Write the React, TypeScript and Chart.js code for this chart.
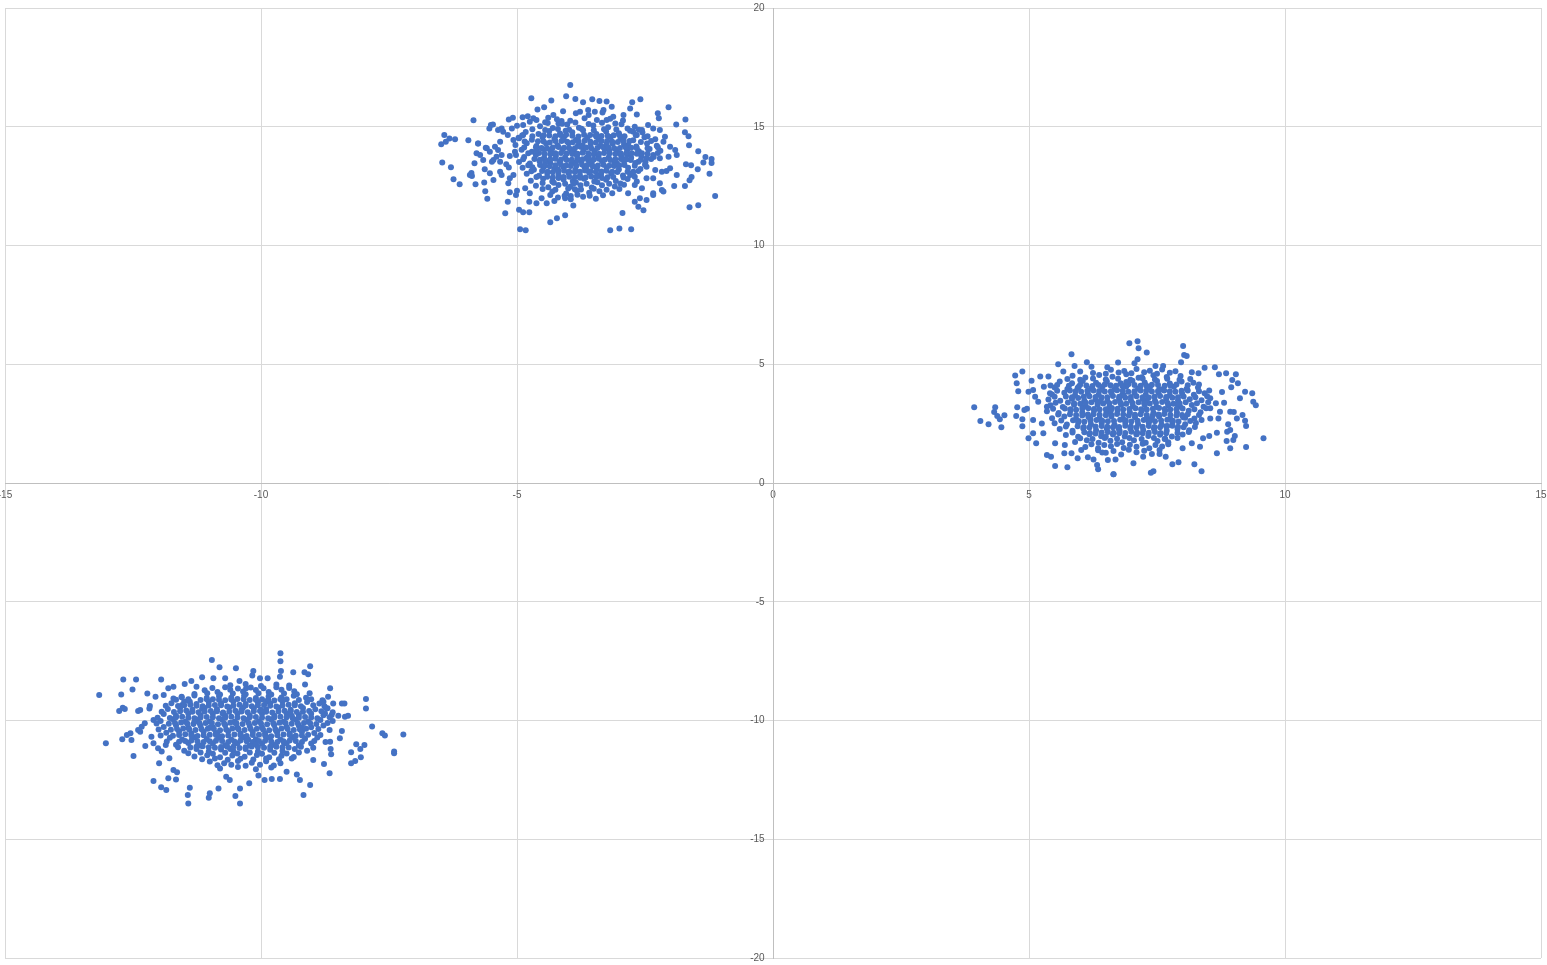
import React, { useEffect, useRef } from "react";
import { Chart, registerables } from "chart.js";

Chart.register(...registerables);

const xTicks = [-15, -10, -5, 0, 5, 10, 15];
const yTicks = [-20, -15, -10, -5, 0, 5, 10, 15, 20];

const clusterA: [number, number][] = [
  [-3.96,16.76],[-4.72,16.20],[-4.33,16.11],[-4.04,16.28],[-3.86,16.17],[-4.60,15.73],[-4.47,15.82],[-4.10,15.65],
  [-5.85,15.27],[-5.16,15.31],[-5.08,15.38],[-4.89,15.40],[-4.79,15.44],[-5.51,15.07],[-5.54,14.93],[-5.47,15.10],
  [-6.42,14.65],[-6.32,14.51],[-6.21,14.47],[-6.39,14.37],[-6.48,14.26],[-5.95,14.43],[-5.76,14.30],[-5.59,14.09],
  [-6.46,13.50],[-6.29,13.29],[-5.83,13.46],[-6.24,12.79],[-6.12,12.58],[-5.92,12.97],[-5.89,13.05],[-5.81,12.58],
  [-5.62,12.28],[-5.58,11.97],[-5.23,11.36],[-5.18,11.84],[-4.96,11.51],[-4.88,11.40],[-4.76,11.40],[-4.94,10.68],
  [-4.83,10.64],[-4.35,10.98],[-4.22,11.15],[-4.06,11.27],[-3.90,11.68],
  [-3.71,16.03],[-3.53,16.16],[-3.39,16.08],[-2.75,16.03],[-2.59,16.16],[-2.04,15.82],[-2.25,15.57],[-2.23,15.36],
  [-1.71,15.31],[-1.89,15.10],[-1.72,14.77],[-1.65,14.60],[-1.64,14.22],[-1.46,13.97],[-1.32,13.73],[-1.20,13.64],
  [-1.20,13.47],[-1.36,13.50],[-1.47,13.21],[-1.24,13.02],[-1.60,13.38],[-1.70,13.42],[-1.59,12.88],[-1.63,12.75],
  [-1.72,12.51],[-1.93,12.51],[-1.13,12.08],[-1.46,11.69],[-1.63,11.61],[-2.53,11.48],[-2.94,11.37],[-3.18,10.64],
  [-3.00,10.72],[-2.77,10.68],[-2.14,12.27],[-2.34,12.13],
  [-5.76,14.30],[-5.61,14.12],[-5.43,14.16],[-5.33,14.37],[-5.37,14.02],[-5.30,13.81],[-5.14,13.77],[-5.04,13.95],
  [-5.40,13.74],[-5.49,13.53],[-5.66,13.60],[-5.72,13.81],[-5.79,13.88],[-5.63,13.21],[-5.53,13.04],[-5.33,13.11],
  [-5.30,12.97],[-5.46,12.76],[-5.17,12.62],[-5.14,12.83],[-5.07,12.97],[-5.21,13.42],[-5.16,13.28],[-5.33,13.53],
  [-5.02,13.81],[-5.07,14.44],[-4.97,14.54],[-4.88,14.65],[-5.18,14.65],[-5.27,14.79],[-5.37,14.86],[-5.30,14.93],
  [-5.10,14.93],[-5.00,15.04],[-4.88,15.07],[-4.75,15.21],[-4.68,15.36],[-4.62,15.28],[-4.45,15.19],[-4.39,15.38],
  [-4.29,15.49],[-4.19,15.14],[-4.13,15.24],[-5.00,12.31],[-5.14,12.24],[-5.02,12.13],[-4.84,12.41],[-4.75,12.20],
  [-4.76,11.84],[-4.62,11.78],[-4.52,11.99],[-4.42,11.78],[-4.27,11.87],[-4.06,11.99],[-3.95,12.08],[-3.87,12.37],
  [-5.53,13.95],[-5.88,12.93],[-5.64,12.65],[-5.46,13.60],
  [-2.73,14.79],[-2.66,14.65],[-2.56,14.86],[-2.44,15.07],[-2.34,14.93],[-2.21,14.86],[-2.11,14.58],[-2.14,14.37],
  [-2.01,14.16],[-1.91,14.02],[-1.88,13.81],[-2.04,13.74],[-2.21,13.67],[-2.34,13.81],[-2.47,13.67],[-2.56,13.88],
  [-2.63,13.53],[-2.47,13.32],[-2.30,13.18],[-2.17,13.11],[-2.08,13.14],[-2.01,13.25],[-1.88,12.97],[-2.34,12.83],
  [-2.47,12.83],[-2.66,12.69],[-2.56,12.41],[-2.70,12.55],[-2.83,12.20],[-2.70,11.84],[-2.60,11.99],[-2.47,11.92],
  [-2.63,11.63],[-2.21,12.62],[-2.17,12.34],[-2.34,12.20],[-2.79,12.97],[-2.73,13.11],[-2.85,13.81],[-2.83,14.23],
  [-2.92,14.44],[-3.15,15.84],[-3.12,15.42],[-2.92,15.49],[-2.79,15.77],[-2.66,15.52],[-3.25,15.28],[-3.31,15.71],
  [-3.61,15.71],[-3.77,15.63],[-3.48,15.63],[-3.25,16.06],
  [-3.85,15.57],[-3.6,15.5],[-3.33,15.6],
  [-4.22,15.32],[-3.96,15.25],[-3.68,15.36],[-3.44,15.28],[-3.18,15.34],[-2.93,15.26],
  [-4.55,15.02],[-4.3,14.95],[-4.02,15.09],[-3.79,14.96],[-3.51,15.05],[-3.22,14.98],[-2.96,15.11],[-2.7,15.0],
  [-4.83,14.78],[-4.58,14.7],[-4.37,14.82],[-4.16,14.72],[-3.92,14.77],[-3.71,14.85],[-3.45,14.69],[-3.26,14.8],[-3.01,14.73],[-2.79,14.83],[-2.55,14.76],
  [-4.96,14.52],[-4.71,14.45],[-4.5,14.56],[-4.27,14.48],[-4.08,14.58],[-3.85,14.44],[-3.63,14.54],[-3.4,14.47],[-3.17,14.57],[-2.98,14.5],[-2.73,14.43],[-2.51,14.56],[-2.3,14.47],
  [-5.03,14.23],[-4.81,14.31],[-4.62,14.19],[-4.43,14.29],[-4.21,14.22],[-3.99,14.31],[-3.81,14.2],[-3.56,14.27],[-3.37,14.2],[-3.13,14.3],[-2.91,14.24],[-2.67,14.17],[-2.46,14.29],[-2.27,14.2],
  [-4.91,14.03],[-4.71,13.95],[-4.49,14.06],[-4.34,13.97],[-4.11,14.04],[-3.93,13.94],[-3.7,14.03],[-3.49,13.98],[-3.29,14.07],[-3.05,13.96],[-2.85,14.02],[-2.62,13.97],[-2.41,14.06],[-2.2,13.99],
  [-4.86,13.73],[-4.63,13.81],[-4.47,13.7],[-4.24,13.78],[-4.06,13.71],[-3.83,13.8],[-3.64,13.69],[-3.41,13.78],[-3.21,13.71],[-2.97,13.81],[-2.77,13.7],[-2.57,13.76],[-2.33,13.73],
  [-4.96,13.52],[-4.75,13.45],[-4.56,13.56],[-4.35,13.47],[-4.17,13.53],[-3.94,13.44],[-3.75,13.55],[-3.54,13.48],[-3.34,13.55],[-3.1,13.46],[-2.91,13.55],[-2.69,13.47],[-2.49,13.52],
  [-4.89,13.27],[-4.67,13.19],[-4.48,13.3],[-4.27,13.22],[-4.09,13.29],[-3.86,13.19],[-3.68,13.3],[-3.44,13.23],[-3.25,13.28],[-3.01,13.2],[-2.83,13.27],[-2.59,13.22],
  [-4.81,13.02],[-4.57,12.94],[-4.41,13.05],[-4.19,12.97],[-3.99,13.04],[-3.77,12.95],[-3.59,13.06],[-3.36,12.98],[-3.16,13.03],[-2.93,12.95],[-2.74,13.05],
  [-4.73,12.73],[-4.49,12.81],[-4.31,12.69],[-4.09,12.78],[-3.91,12.72],[-3.69,12.81],[-3.49,12.7],[-3.26,12.77],[-3.07,12.72],[-2.84,12.8],
  [-4.63,12.52],[-4.39,12.45],[-4.19,12.55],[-3.96,12.47],[-3.76,12.54],[-3.54,12.44],[-3.34,12.54],[-3.09,12.48],[-2.91,12.56],
  [-4.31,12.27],[-4.04,12.19],[-3.83,12.31],[-3.59,12.22],[-3.39,12.28],[-3.14,12.2],
  [-4.2,12.02],[-3.95,11.95],[-3.71,12.05],[-3.46,11.97],
  [-4.48,14.64],[-4.25,14.6],[-4.04,14.66],[-3.8,14.59],[-3.57,14.65],[-3.35,14.61],[-3.11,14.64],[-2.9,14.6],
  [-4.59,14.39],[-4.36,14.34],[-4.13,14.4],[-3.91,14.35],[-3.68,14.41],[-3.46,14.34],[-3.24,14.4],[-3.03,14.36],[-2.8,14.4],
  [-4.63,14.14],[-4.41,14.08],[-4.19,14.15],[-3.98,14.1],[-3.76,14.16],[-3.55,14.09],[-3.32,14.15],[-3.1,14.1],[-2.88,14.14],[-2.66,14.09],
  [-4.57,13.89],[-4.35,13.84],[-4.14,13.9],[-3.92,13.85],[-3.72,13.91],[-3.5,13.84],[-3.3,13.9],[-3.08,13.85],[-2.86,13.9],[-2.66,13.86],
  [-4.66,13.64],[-4.44,13.58],[-4.25,13.65],[-4.03,13.6],[-3.82,13.66],[-3.61,13.59],[-3.4,13.65],[-3.18,13.6],[-2.97,13.64],[-2.78,13.6],
  [-4.55,13.39],[-4.36,13.34],[-4.14,13.4],[-3.95,13.35],[-3.73,13.41],[-3.52,13.34],[-3.31,13.4],[-3.1,13.35],[-2.9,13.39],
  [-4.51,13.14],[-4.3,13.08],[-4.08,13.15],[-3.87,13.1],[-3.67,13.16],[-3.46,13.09],[-3.25,13.15],[-3.04,13.1],
  [-4.41,12.89],[-4.19,12.84],[-3.98,12.9],[-3.77,12.85],[-3.55,12.91],[-3.34,12.84],[-3.12,12.88],
  [-4.28,12.64],[-4.06,12.6],[-3.85,12.65],[-3.64,12.6],[-3.43,12.66],[-3.2,12.6],
];

const clusterAFill: [number, number][] = [
  [-4.7,14.9],[-4.45,14.86],[-4.2,14.91],[-3.98,14.87],[-3.74,14.92],[-3.5,14.85],[-3.3,14.9],[-3.06,14.88],[-2.84,14.93],[-2.62,14.87],
  [-4.4,15.16],[-4.12,15.13],[-3.86,15.18],[-3.6,15.12],[-3.34,15.17],[-3.08,15.14],
  [-4.9,14.63],[-4.7,14.6],[-2.68,14.64],[-2.45,14.6],[-4.85,14.38],[-2.58,14.36],[-2.38,14.4],
  [-4.86,14.13],[-2.45,14.1],[-2.25,14.14],[-4.78,13.88],[-2.45,13.86],[-2.25,13.9],
  [-4.88,13.63],[-2.58,13.61],[-2.38,13.64],[-4.78,13.38],[-2.7,13.36],[-2.5,13.4],
  [-4.72,13.13],[-2.84,13.11],[-2.63,13.14],[-4.62,12.88],[-2.92,12.86],[-2.7,12.9],
  [-4.5,12.63],[-2.98,12.61],
  [-4.5,12.38],[-4.25,12.35],[-4.0,12.4],[-3.75,12.36],[-3.5,12.39],[-3.25,12.35],[-3.0,12.38],
  [-4.35,12.13],[-4.07,12.1],[-3.82,12.14],[-3.58,12.1],[-3.32,12.12],
  [-4.1,14.45],[-3.72,14.22],[-3.45,14.58],[-3.9,13.98],[-3.6,13.72],[-4.3,13.9],[-3.2,14.0],[-4.45,13.5],
  [-3.05,13.45],[-3.65,13.2],[-4.2,13.2],[-3.42,12.95],[-3.9,12.6],[-4.05,14.83],[-3.25,14.27],[-2.95,13.7],
  [-4.7,13.3],[-4.62,14.0],[-3.85,13.5],[-3.35,13.1],
];

const clusterAFill2: [number, number][] = [
  [-4.37,14.63],[-4.15,14.65],[-3.92,14.62],[-3.69,14.66],[-3.46,14.63],[-3.23,14.62],[-3.0,14.65],
  [-4.48,14.38],[-4.25,14.4],[-4.02,14.37],[-3.8,14.39],[-3.57,14.38],[-3.35,14.4],[-3.14,14.37],[-2.92,14.39],
  [-4.52,14.11],[-4.3,14.13],[-4.08,14.12],[-3.87,14.1],[-3.65,14.13],[-3.43,14.11],[-3.21,14.13],[-2.99,14.11],[-2.77,14.12],
  [-4.46,13.86],[-4.25,13.88],[-4.03,13.87],[-3.82,13.86],[-3.61,13.88],[-3.4,13.86],[-3.19,13.88],[-2.97,13.87],[-2.76,13.88],
  [-4.55,13.61],[-4.35,13.63],[-4.14,13.62],[-3.93,13.61],[-3.72,13.63],[-3.5,13.62],[-3.29,13.61],[-3.08,13.63],[-2.87,13.62],
  [-4.46,13.36],[-4.25,13.38],[-4.04,13.37],[-3.84,13.36],[-3.63,13.38],[-3.42,13.37],[-3.2,13.36],[-3.0,13.38],
  [-4.4,13.11],[-4.19,13.13],[-3.98,13.12],[-3.77,13.11],[-3.56,13.13],[-3.35,13.12],[-3.14,13.11],
  [-4.3,12.86],[-4.09,12.88],[-3.87,12.87],[-3.66,12.86],[-3.45,12.88],[-3.23,12.87],
];

const clusterB: [number, number][] = [
  [3.93,3.19],[4.05,2.61],[4.21,2.47],[4.34,3.19],[4.32,2.99],[4.38,2.82],[4.43,2.68],[4.52,2.85],[4.46,2.35],
  [4.73,4.53],[4.87,4.70],[4.76,4.20],[4.79,3.86],[4.77,3.19],[4.75,2.82],[4.87,2.68],[4.87,2.39],[4.91,3.07],
  [4.99,3.84],[5.05,4.31],[5.08,3.92],[5.12,3.63],[5.18,3.42],[4.99,1.88],[5.08,2.09],[5.14,1.67],[5.08,2.65],
  [4.96,3.13],[5.22,4.48],[5.38,4.48],[5.29,4.05],[5.42,4.11],[5.41,3.78],[5.35,3.21],[5.25,2.51],[5.28,2.09],
  [5.35,1.18],[5.43,1.11],[5.51,0.72],[5.75,0.66],[5.57,5.00],[5.67,4.70],[5.83,5.42],[5.89,4.93],[5.51,1.67],
  [5.70,1.60],[5.83,1.25],[5.95,1.04],[5.69,1.25],[6.02,1.39],[6.15,1.08],[6.26,0.99],[6.33,0.76],[6.35,0.58],
  [6.43,1.28],[6.65,0.37],[6.54,0.97],[6.13,5.08],[6.22,4.90],[6.00,4.70],[6.53,4.87],
  [6.96,5.88],[7.12,5.97],[7.14,5.67],[7.30,5.50],[7.06,5.04],[7.12,5.21],[6.74,5.07],[8.01,5.77],[8.03,5.39],
  [8.08,5.35],[7.97,5.08],[7.47,4.93],[7.62,4.93],[8.18,4.66],[8.31,4.62],[8.43,4.85],[8.63,4.87],[8.71,4.58],
  [8.85,4.62],[9.04,4.58],[8.97,4.34],[9.08,4.20],[8.95,4.03],[8.77,3.83],[9.22,3.84],[9.36,3.78],[9.12,3.57],
  [9.38,3.42],[9.43,3.27],[8.81,3.38],[8.65,3.36],[8.54,3.57],[8.54,3.15],[8.73,3.00],[8.93,3.00],[9.00,2.99],
  [9.17,2.86],[9.22,2.62],[9.24,2.40],[9.06,2.72],[8.89,2.47],[8.93,2.23],[8.87,2.16],[8.70,2.72],[8.54,2.72],
  [8.67,2.12],[8.52,1.98],[8.40,1.88],[9.02,1.98],[8.99,1.81],[8.86,1.77],[8.93,1.46],[9.58,1.88],[9.24,1.52],
  [8.67,1.25],[8.37,0.49],[8.23,0.79],[7.92,0.87],[7.80,0.79],[7.67,1.11],[7.55,1.22],[7.43,0.49],[7.38,0.43],
  [6.65,0.37],[6.69,0.99],[7.04,0.83],[7.23,1.11],[8.34,1.53],[8.18,1.67],[8.00,1.46],
  [6.6,4.77],[6.86,4.72],[7.1,4.8],[7.36,4.73],[7.6,4.78],[7.86,4.71],
  [5.85,4.52],[6.1,4.44],[6.37,4.55],[6.63,4.47],[6.9,4.58],[7.14,4.43],[7.43,4.54],[7.69,4.46],[7.96,4.51],
  [5.6,4.27],[5.84,4.2],[6.05,4.3],[6.31,4.22],[6.52,4.28],[6.79,4.2],[7.02,4.31],[7.26,4.23],[7.5,4.29],[7.75,4.19],[7.98,4.27],[8.21,4.22],
  [5.5,4.02],[5.75,3.96],[5.97,4.05],[6.21,3.97],[6.43,4.04],[6.67,3.95],[6.9,4.06],[7.13,3.98],[7.36,4.03],[7.61,3.95],[7.83,4.05],[8.08,3.97],[8.3,4.02],
  [5.45,3.73],[5.69,3.8],[5.9,3.7],[6.15,3.78],[6.36,3.72],[6.61,3.8],[6.82,3.71],[7.06,3.79],[7.28,3.72],[7.53,3.8],[7.75,3.7],[7.99,3.77],[8.22,3.72],[8.43,3.78],
  [5.38,3.52],[5.61,3.46],[5.84,3.55],[6.08,3.47],[6.3,3.53],[6.53,3.45],[6.76,3.55],[6.99,3.48],[7.22,3.54],[7.46,3.46],[7.68,3.55],[7.91,3.47],[8.14,3.53],[8.37,3.48],
  [5.42,3.27],[5.66,3.2],[5.88,3.3],[6.11,3.22],[6.34,3.28],[6.57,3.2],[6.8,3.3],[7.03,3.23],[7.26,3.28],[7.49,3.2],[7.72,3.27],[7.95,3.22],[8.18,3.28],[8.41,3.21],
  [5.35,3.02],[5.58,2.95],[5.81,3.05],[6.04,2.97],[6.27,3.04],[6.51,2.96],[6.73,3.05],[6.97,2.98],[7.2,3.03],[7.43,2.96],[7.66,3.05],[7.89,2.97],[8.12,3.04],[8.35,2.98],
  [5.45,2.73],[5.69,2.8],[5.92,2.7],[6.16,2.78],[6.38,2.72],[6.61,2.8],[6.84,2.7],[7.07,2.77],[7.3,2.72],[7.54,2.8],[7.76,2.7],[8.01,2.77],[8.23,2.72],
  [5.5,2.52],[5.74,2.46],[5.96,2.55],[6.21,2.47],[6.42,2.53],[6.67,2.45],[6.88,2.55],[7.13,2.48],[7.34,2.54],[7.59,2.46],[7.8,2.55],[8.05,2.47],[8.26,2.53],
  [5.6,2.27],[5.85,2.2],[6.06,2.3],[6.31,2.22],[6.52,2.28],[6.77,2.2],[6.98,2.3],[7.23,2.23],[7.44,2.28],[7.69,2.2],[7.9,2.27],[8.13,2.22],
  [5.72,2.02],[5.96,1.95],[6.18,2.05],[6.41,1.97],[6.64,2.04],[6.87,1.96],[7.1,2.05],[7.33,1.98],[7.56,2.03],[7.79,1.96],[8.0,2.04],
  [5.9,1.73],[6.13,1.8],[6.36,1.7],[6.59,1.78],[6.82,1.72],[7.05,1.8],[7.28,1.7],[7.51,1.77],[7.72,1.72],
  [6.1,1.52],[6.35,1.46],[6.6,1.55],[6.85,1.47],[7.1,1.53],[7.35,1.46],[7.6,1.54],
  [6.5,1.27],[6.8,1.2],[7.1,1.3],[7.4,1.22],
  [6.0,4.14],[6.24,4.08],[6.48,4.15],[6.7,4.1],[6.94,4.16],[7.18,4.09],[7.4,4.14],[7.65,4.1],[7.88,4.15],
  [5.8,3.89],[6.02,3.84],[6.26,3.9],[6.48,3.85],[6.72,3.91],[6.94,3.84],[7.18,3.9],[7.4,3.85],[7.64,3.9],[7.86,3.84],[8.1,3.9],
  [5.72,3.64],[5.96,3.58],[6.18,3.65],[6.42,3.6],[6.64,3.66],[6.88,3.59],[7.1,3.65],[7.34,3.6],[7.56,3.66],[7.8,3.59],[8.02,3.64],
  [5.76,3.39],[6.0,3.34],[6.22,3.4],[6.45,3.35],[6.68,3.41],[6.9,3.34],[7.14,3.4],[7.36,3.35],[7.6,3.41],[7.82,3.34],[8.06,3.4],
  [5.7,3.14],[5.92,3.08],[6.16,3.15],[6.38,3.1],[6.62,3.16],[6.84,3.09],[7.08,3.15],[7.3,3.1],[7.54,3.16],[7.76,3.09],[8.0,3.14],
  [5.8,2.89],[6.04,2.84],[6.26,2.9],[6.5,2.85],[6.72,2.91],[6.95,2.84],[7.18,2.9],[7.42,2.85],[7.64,2.91],[7.88,2.84],[8.1,2.9],
  [5.86,2.64],[6.08,2.58],[6.32,2.65],[6.54,2.6],[6.78,2.66],[7.0,2.59],[7.24,2.65],[7.46,2.6],[7.7,2.66],[7.92,2.59],
  [5.95,2.39],[6.18,2.34],[6.42,2.4],[6.64,2.35],[6.88,2.41],[7.1,2.34],[7.34,2.4],[7.56,2.35],[7.8,2.41],[8.02,2.35],
  [6.08,2.14],[6.3,2.08],[6.54,2.15],[6.76,2.1],[7.0,2.16],[7.22,2.09],[7.46,2.15],[7.68,2.1],
];

const clusterBFill: [number, number][] = [
  [5.75,4.38],[6.0,4.35],[6.25,4.4],[6.5,4.36],[6.74,4.39],[6.98,4.35],[7.22,4.4],[7.46,4.36],[7.7,4.39],[7.94,4.35],[8.15,4.38],
  [6.25,4.63],[6.5,4.6],[6.75,4.65],[7.0,4.62],[7.25,4.66],[7.5,4.6],[7.75,4.64],
  [5.55,4.13],[5.78,4.1],[8.1,4.12],[8.32,4.15],[5.55,3.88],[8.32,3.86],[8.52,3.9],
  [5.5,3.63],[8.25,3.61],[8.48,3.65],[5.52,3.38],[8.28,3.36],[8.5,3.4],
  [5.47,3.13],[8.23,3.11],[8.46,3.15],[5.57,2.88],[8.32,2.86],
  [5.63,2.63],[8.15,2.61],[8.37,2.65],[5.72,2.38],[8.24,2.36],
  [5.85,2.13],[7.9,2.11],[8.12,2.15],
  [6.0,1.88],[6.24,1.85],[6.48,1.9],[6.72,1.86],[6.96,1.89],[7.2,1.85],[7.44,1.9],[7.66,1.86],[7.9,1.89],
  [6.22,1.63],[6.47,1.6],[6.72,1.64],[6.97,1.61],[7.22,1.65],[7.47,1.6],[7.72,1.63],
  [6.35,1.38],[6.65,1.35],[6.95,1.4],[7.25,1.36],[7.55,1.39],
  [6.6,3.05],[7.3,3.5],[6.2,2.7],[7.7,2.4],[6.9,4.25],[7.1,2.05],[6.4,3.45],[7.55,3.95],[6.05,3.2],[7.9,3.3],
  [6.75,2.3],[7.4,2.75],[5.95,4.0],[8.05,2.75],[6.5,1.95],[7.2,4.45],[6.85,3.7],[7.65,1.85],
];

const clusterBFill2: [number, number][] = [
  [6.12,4.11],[6.36,4.13],[6.59,4.12],[6.82,4.1],[7.06,4.13],[7.29,4.11],[7.52,4.13],[7.76,4.11],
  [5.91,3.86],[6.14,3.88],[6.37,3.87],[6.6,3.86],[6.83,3.88],[7.06,3.86],[7.29,3.88],[7.52,3.87],[7.75,3.86],[7.98,3.88],
  [5.84,3.61],[6.07,3.63],[6.3,3.62],[6.53,3.61],[6.76,3.63],[6.99,3.62],[7.22,3.61],[7.45,3.63],[7.68,3.62],[7.91,3.61],
  [5.88,3.36],[6.11,3.38],[6.34,3.37],[6.57,3.36],[6.79,3.38],[7.02,3.37],[7.25,3.36],[7.48,3.38],[7.71,3.37],[7.94,3.36],
  [5.81,3.11],[6.04,3.13],[6.27,3.12],[6.5,3.11],[6.73,3.13],[6.96,3.12],[7.19,3.11],[7.42,3.13],[7.65,3.12],[7.88,3.11],
  [5.92,2.86],[6.15,2.88],[6.38,2.87],[6.61,2.86],[6.84,2.88],[7.07,2.87],[7.3,2.86],[7.53,2.88],[7.76,2.87],[7.99,2.86],
  [5.97,2.61],[6.2,2.63],[6.43,2.62],[6.66,2.61],[6.89,2.63],[7.12,2.62],[7.35,2.61],[7.58,2.63],[7.81,2.62],
  [6.07,2.36],[6.3,2.38],[6.53,2.37],[6.76,2.36],[6.99,2.38],[7.22,2.37],[7.45,2.36],[7.68,2.38],[7.91,2.37],
  [6.19,2.11],[6.42,2.13],[6.65,2.12],[6.88,2.11],[7.11,2.13],[7.34,2.12],[7.57,2.11],
];

const clusterC: [number, number][] = [
  [-13.16,-8.93],[-13.03,-10.96],[-12.69,-8.27],[-12.44,-8.27],[-12.51,-8.69],[-12.73,-8.90],[-12.70,-9.46],[-12.77,-9.60],
  [-12.66,-9.52],[-12.40,-9.60],[-12.36,-9.56],[-12.18,-9.49],[-12.17,-9.39],[-12.22,-8.86],[-12.06,-9.00],[-11.95,-8.27],
  [-12.71,-10.79],[-12.62,-10.61],[-12.53,-10.82],[-12.55,-10.54],[-12.40,-10.40],[-12.33,-10.26],[-12.36,-10.47],[-12.27,-10.12],
  [-12.10,-9.98],[-12.49,-11.49],[-12.26,-11.07],[-12.14,-10.68],[-12.10,-10.96],[-12.01,-11.17],[-11.99,-11.80],[-12.10,-12.55],
  [-11.95,-12.81],[-11.85,-12.93],[-11.81,-12.43],[-11.66,-12.48],[-11.71,-12.08],[-11.64,-12.18],[-11.79,-11.59],[-11.94,-11.31],
  [-11.86,-11.03],[-11.39,-12.83],[-11.43,-13.14],[-11.42,-13.49],[-11.00,-13.06],[-11.02,-13.25],[-10.83,-12.86],[-10.50,-13.18],
  [-10.41,-13.49],[-10.41,-12.86],[-10.61,-12.51],[-10.68,-12.37],[-10.96,-7.45],[-10.81,-7.76],[-10.49,-7.80],[-10.42,-8.34],
  [-10.70,-8.22],[-10.93,-8.22],[-11.15,-8.18],[-11.36,-8.34],[-11.49,-8.46],[-11.71,-8.58],[-11.81,-8.64],[-11.90,-8.93],
  [-11.71,-9.07],[-11.55,-9.00],[-11.54,-9.35],[-11.39,-9.21],[-11.26,-8.58],[-10.29,-8.64],
  [-9.62,-7.17],[-9.62,-7.51],[-9.61,-7.92],[-9.63,-8.16],[-9.37,-7.97],[-9.04,-7.72],[-9.15,-7.97],[-9.08,-8.05],
  [-10.15,-7.92],[-10.17,-8.11],[-10.02,-8.22],[-9.87,-8.22],[-9.14,-8.48],[-8.65,-8.64],[-8.69,-9.00],[-8.78,-9.21],
  [-8.59,-9.28],[-8.42,-9.28],[-8.37,-9.28],[-8.72,-9.49],[-8.75,-9.70],[-8.62,-9.77],[-8.49,-9.80],[-8.36,-9.84],
  [-8.30,-9.80],[-7.95,-9.09],[-7.95,-9.49],[-7.83,-10.25],[-7.63,-10.54],[-7.58,-10.63],[-7.22,-10.59],[-7.40,-11.31],
  [-7.40,-11.38],[-8.14,-11.00],[-7.98,-11.03],[-8.06,-11.20],[-8.24,-11.34],[-8.05,-11.55],[-8.16,-11.71],[-8.24,-11.80],
  [-8.42,-10.44],[-8.46,-10.75],[-8.65,-10.89],[-8.64,-11.20],[-8.63,-11.42],[-8.66,-12.22],[-8.77,-11.83],[-8.98,-11.66],
  [-9.04,-12.72],[-9.17,-13.14],[-9.24,-12.51],[-9.30,-12.27],[-9.50,-12.16],[-9.63,-12.46],[-9.79,-12.46],[-9.93,-12.51],
  [-10.05,-12.32],[-10.23,-12.64],
  [-10.6,-8.52],[-10.3,-8.46],[-10.0,-8.55],[-9.7,-8.48],[-9.45,-8.53],
  [-11.1,-8.73],[-10.85,-8.8],[-10.6,-8.7],[-10.35,-8.78],[-10.1,-8.72],[-9.85,-8.8],[-9.6,-8.7],[-9.35,-8.77],
  [-11.55,-9.02],[-11.3,-8.95],[-11.06,-9.05],[-10.82,-8.97],[-10.58,-9.04],[-10.33,-8.96],[-10.1,-9.05],[-9.85,-8.98],[-9.6,-9.03],[-9.36,-8.96],[-9.12,-9.04],
  [-11.75,-9.27],[-11.5,-9.2],[-11.26,-9.3],[-11.02,-9.22],[-10.78,-9.28],[-10.54,-9.2],[-10.3,-9.3],[-10.06,-9.23],[-9.82,-9.28],[-9.58,-9.2],[-9.34,-9.27],[-9.1,-9.22],[-8.86,-9.28],
  [-11.82,-9.52],[-11.58,-9.46],[-11.34,-9.55],[-11.1,-9.47],[-10.86,-9.53],[-10.62,-9.45],[-10.38,-9.55],[-10.14,-9.48],[-9.9,-9.54],[-9.66,-9.46],[-9.42,-9.55],[-9.18,-9.47],[-8.94,-9.53],[-8.7,-9.48],
  [-11.9,-9.73],[-11.66,-9.8],[-11.42,-9.7],[-11.18,-9.78],[-10.94,-9.72],[-10.7,-9.8],[-10.46,-9.71],[-10.22,-9.79],[-9.98,-9.72],[-9.74,-9.8],[-9.5,-9.7],[-9.26,-9.77],[-9.02,-9.72],[-8.78,-9.78],
  [-11.96,-10.02],[-11.72,-9.95],[-11.48,-10.05],[-11.24,-9.97],[-11.0,-10.04],[-10.76,-9.96],[-10.52,-10.05],[-10.28,-9.98],[-10.04,-10.03],[-9.8,-9.96],[-9.56,-10.05],[-9.32,-9.97],[-9.08,-10.04],[-8.84,-9.98],[-8.6,-10.02],
  [-11.9,-10.27],[-11.66,-10.2],[-11.42,-10.3],[-11.18,-10.22],[-10.94,-10.28],[-10.7,-10.2],[-10.46,-10.3],[-10.22,-10.23],[-9.98,-10.28],[-9.74,-10.2],[-9.5,-10.27],[-9.26,-10.22],[-9.02,-10.28],[-8.78,-10.21],
  [-11.85,-10.52],[-11.6,-10.46],[-11.36,-10.55],[-11.12,-10.47],[-10.88,-10.53],[-10.64,-10.45],[-10.4,-10.55],[-10.16,-10.48],[-9.92,-10.54],[-9.68,-10.46],[-9.44,-10.55],[-9.2,-10.47],[-8.96,-10.53],
  [-11.78,-10.73],[-11.54,-10.8],[-11.3,-10.7],[-11.06,-10.78],[-10.82,-10.72],[-10.58,-10.8],[-10.34,-10.71],[-10.1,-10.79],[-9.86,-10.72],[-9.62,-10.8],[-9.38,-10.7],[-9.14,-10.77],[-8.9,-10.72],
  [-11.66,-11.02],[-11.42,-10.95],[-11.18,-11.05],[-10.94,-10.97],[-10.7,-11.04],[-10.46,-10.96],[-10.22,-11.05],[-9.98,-10.98],[-9.74,-11.03],[-9.5,-10.96],[-9.26,-11.04],[-9.02,-10.97],
  [-11.5,-11.27],[-11.26,-11.2],[-11.02,-11.3],[-10.78,-11.22],[-10.54,-11.28],[-10.3,-11.2],[-10.06,-11.3],[-9.82,-11.23],[-9.58,-11.28],[-9.34,-11.2],[-9.1,-11.27],
  [-11.3,-11.52],[-11.05,-11.46],[-10.8,-11.55],[-10.56,-11.47],[-10.32,-11.53],[-10.08,-11.45],[-9.84,-11.55],[-9.6,-11.48],[-9.36,-11.54],
  [-11.0,-11.73],[-10.72,-11.8],[-10.45,-11.7],[-10.18,-11.78],[-9.9,-11.72],[-9.62,-11.8],
  [-10.8,-12.02],[-10.45,-11.96],[-10.1,-12.05],[-9.8,-11.98],
  [-11.18,-9.14],[-10.94,-9.1],[-10.7,-9.15],[-10.46,-9.09],[-10.22,-9.14],[-9.98,-9.1],[-9.74,-9.16],[-9.5,-9.1],
  [-11.62,-9.39],[-11.38,-9.34],[-11.14,-9.4],[-10.9,-9.35],[-10.66,-9.41],[-10.42,-9.34],[-10.18,-9.4],[-9.94,-9.35],[-9.7,-9.41],[-9.46,-9.34],[-9.22,-9.4],
  [-11.7,-9.64],[-11.46,-9.58],[-11.22,-9.65],[-10.98,-9.6],[-10.74,-9.66],[-10.5,-9.59],[-10.26,-9.65],[-10.02,-9.6],[-9.78,-9.66],[-9.54,-9.59],[-9.3,-9.64],[-9.06,-9.6],
  [-11.78,-9.89],[-11.54,-9.84],[-11.3,-9.9],[-11.06,-9.85],[-10.82,-9.91],[-10.58,-9.84],[-10.34,-9.9],[-10.1,-9.85],[-9.86,-9.91],[-9.62,-9.84],[-9.38,-9.9],[-9.14,-9.85],[-8.9,-9.9],
  [-11.8,-10.14],[-11.56,-10.08],[-11.32,-10.15],[-11.08,-10.1],[-10.84,-10.16],[-10.6,-10.09],[-10.36,-10.15],[-10.12,-10.1],[-9.88,-10.16],[-9.64,-10.09],[-9.4,-10.14],[-9.16,-10.1],[-8.92,-10.15],
  [-11.76,-10.39],[-11.52,-10.34],[-11.28,-10.4],[-11.04,-10.35],[-10.8,-10.41],[-10.56,-10.34],[-10.32,-10.4],[-10.08,-10.35],[-9.84,-10.41],[-9.6,-10.34],[-9.36,-10.4],[-9.12,-10.35],
  [-11.72,-10.64],[-11.48,-10.58],[-11.24,-10.65],[-11.0,-10.6],[-10.76,-10.66],[-10.52,-10.59],[-10.28,-10.65],[-10.04,-10.6],[-9.8,-10.66],[-9.56,-10.59],[-9.32,-10.64],[-9.08,-10.6],
  [-11.6,-10.89],[-11.36,-10.84],[-11.12,-10.9],[-10.88,-10.85],[-10.64,-10.91],[-10.4,-10.84],[-10.16,-10.9],[-9.92,-10.85],[-9.68,-10.91],[-9.44,-10.84],[-9.2,-10.9],
  [-11.38,-11.14],[-11.14,-11.08],[-10.9,-11.15],[-10.66,-11.1],[-10.42,-11.16],[-10.18,-11.09],[-9.94,-11.15],[-9.7,-11.1],[-9.46,-11.14],
];

const clusterCFill: [number, number][] = [
  [-11.3,-8.88],[-11.05,-8.85],[-10.8,-8.9],[-10.55,-8.86],[-10.3,-8.89],[-10.05,-8.85],[-9.8,-8.9],[-9.55,-8.86],[-9.3,-8.89],[-9.05,-8.85],
  [-10.95,-8.63],[-10.7,-8.6],[-10.45,-8.65],[-10.2,-8.61],[-9.95,-8.64],[-9.7,-8.6],[-9.45,-8.63],
  [-11.66,-9.13],[-11.42,-9.1],[-9.26,-9.14],[-9.02,-9.1],[-8.8,-9.15],[-11.86,-9.38],[-8.98,-9.36],[-8.76,-9.4],
  [-11.94,-9.63],[-8.82,-9.61],[-8.6,-9.65],[-12.02,-9.88],[-8.66,-9.86],[-12.04,-10.13],[-8.7,-10.11],
  [-12.0,-10.38],[-8.88,-10.36],[-8.66,-10.4],[-11.96,-10.63],[-8.84,-10.61],
  [-11.84,-10.88],[-8.96,-10.86],[-8.74,-10.9],[-11.62,-11.13],[-9.22,-11.11],[-8.98,-11.15],
  [-11.42,-11.38],[-11.18,-11.35],[-10.94,-11.4],[-10.7,-11.36],[-10.46,-11.39],[-10.22,-11.35],[-9.98,-11.4],[-9.74,-11.36],[-9.5,-11.39],[-9.26,-11.35],
  [-11.15,-11.63],[-10.9,-11.6],[-10.65,-11.65],[-10.4,-11.61],[-10.15,-11.64],[-9.9,-11.6],[-9.65,-11.63],[-9.4,-11.6],
  [-10.85,-11.88],[-10.58,-11.86],[-10.3,-11.9],[-10.02,-11.86],[-9.75,-11.89],
  [-10.5,-10.1],[-10.0,-9.55],[-9.7,-10.45],[-11.0,-10.3],[-10.25,-10.8],[-10.75,-9.7],[-9.4,-9.8],[-11.3,-10.05],
  [-10.1,-11.0],[-9.9,-9.2],[-10.6,-11.2],[-11.15,-9.5],[-9.55,-10.95],[-10.85,-10.55],[-10.35,-9.45],[-9.2,-10.3],
];

const clusterCFill2: [number, number][] = [
  [-11.06,-9.11],[-10.82,-9.13],[-10.58,-9.12],[-10.34,-9.11],[-10.1,-9.13],[-9.86,-9.12],[-9.62,-9.11],
  [-11.5,-9.36],[-11.26,-9.38],[-11.02,-9.37],[-10.78,-9.36],[-10.54,-9.38],[-10.3,-9.37],[-10.06,-9.36],[-9.82,-9.38],[-9.58,-9.37],[-9.34,-9.36],
  [-11.58,-9.61],[-11.34,-9.63],[-11.1,-9.62],[-10.86,-9.61],[-10.62,-9.63],[-10.38,-9.62],[-10.14,-9.61],[-9.9,-9.63],[-9.66,-9.62],[-9.42,-9.61],[-9.18,-9.63],
  [-11.66,-9.86],[-11.42,-9.88],[-11.18,-9.87],[-10.94,-9.86],[-10.7,-9.88],[-10.46,-9.87],[-10.22,-9.86],[-9.98,-9.88],[-9.74,-9.87],[-9.5,-9.86],[-9.26,-9.88],[-9.02,-9.87],
  [-11.68,-10.11],[-11.44,-10.13],[-11.2,-10.12],[-10.96,-10.11],[-10.72,-10.13],[-10.48,-10.12],[-10.24,-10.11],[-10.0,-10.13],[-9.76,-10.12],[-9.52,-10.11],[-9.28,-10.13],[-9.04,-10.12],
  [-11.64,-10.36],[-11.4,-10.38],[-11.16,-10.37],[-10.92,-10.36],[-10.68,-10.38],[-10.44,-10.37],[-10.2,-10.36],[-9.96,-10.38],[-9.72,-10.37],[-9.48,-10.36],[-9.24,-10.38],
  [-11.6,-10.61],[-11.36,-10.63],[-11.12,-10.62],[-10.88,-10.61],[-10.64,-10.63],[-10.4,-10.62],[-10.16,-10.61],[-9.92,-10.63],[-9.68,-10.62],[-9.44,-10.61],[-9.2,-10.63],
  [-11.48,-10.86],[-11.24,-10.88],[-11.0,-10.87],[-10.76,-10.86],[-10.52,-10.88],[-10.28,-10.87],[-10.04,-10.86],[-9.8,-10.88],[-9.56,-10.87],[-9.32,-10.86],
  [-11.26,-11.11],[-11.02,-11.13],[-10.78,-11.12],[-10.54,-11.11],[-10.3,-11.13],[-10.06,-11.12],[-9.82,-11.11],[-9.58,-11.13],
];

const POINT_COLOR = "#4472C4";

export default function App() {
  const ref = useRef<HTMLCanvasElement | null>(null);
  useEffect(() => {
    if (!ref.current) return;
    const toPts = (arr: [number, number][]) => arr.map(([x, y]) => ({ x, y }));
    const zeroPad = (scale: any) => {
      scale.paddingLeft = 0;
      scale.paddingRight = 0;
      scale.paddingTop = 0;
      scale.paddingBottom = 0;
    };
    const tickFont = { family: "'Liberation Sans', Arial, sans-serif", size: 10 };
    const ds = (data: [number, number][]) => ({
      data: toPts(data),
      backgroundColor: POINT_COLOR,
      borderColor: POINT_COLOR,
      borderWidth: 0,
      pointRadius: 3,
      pointHoverRadius: 3,
    });
    const chart = new Chart(ref.current, {
      type: "scatter",
      data: {
        datasets: [
          ds([...clusterA, ...clusterAFill, ...clusterAFill2]),
          ds([...clusterB, ...clusterBFill, ...clusterBFill2]),
          ds([...clusterC, ...clusterCFill, ...clusterCFill2]),
        ],
      },
      options: {
        animation: false,
        responsive: false,
        events: [],
        layout: { padding: { left: 5, top: 8, right: 6, bottom: 7 } },
        plugins: { legend: { display: false }, tooltip: { enabled: false } },
        scales: {
          x: {
            type: "linear",
            min: xTicks[0],
            max: xTicks[xTicks.length - 1],
            position: { y: 0 } as any,
            afterBuildTicks: (s: any) => { s.ticks = xTicks.map((v) => ({ value: v })); },
            afterFit: zeroPad,
            grid: { color: "#d9d9d9", drawTicks: false, tickLength: 0 },
            border: { display: true, color: "#bfbfbf" },
            ticks: { color: "#595959", font: tickFont, padding: 6, maxRotation: 0, autoSkip: false },
          },
          y: {
            type: "linear",
            min: yTicks[0],
            max: yTicks[yTicks.length - 1],
            position: { x: 0 } as any,
            afterBuildTicks: (s: any) => { s.ticks = yTicks.map((v) => ({ value: v })); },
            afterFit: zeroPad,
            grid: { color: "#d9d9d9", drawTicks: false, tickLength: 0 },
            border: { display: true, color: "#bfbfbf" },
            ticks: {
              color: "#595959",
              font: tickFont,
              autoSkip: false,
              callback: (v: any) => `${v}   `,
            },
          },
        },
      },
    });
    return () => chart.destroy();
  }, []);
  return (
    <canvas
      ref={ref}
      width={1547}
      height={965}
      style={{ position: "absolute", left: 0, top: 0, width: 1547, height: 965 }}
    />
  );
}
